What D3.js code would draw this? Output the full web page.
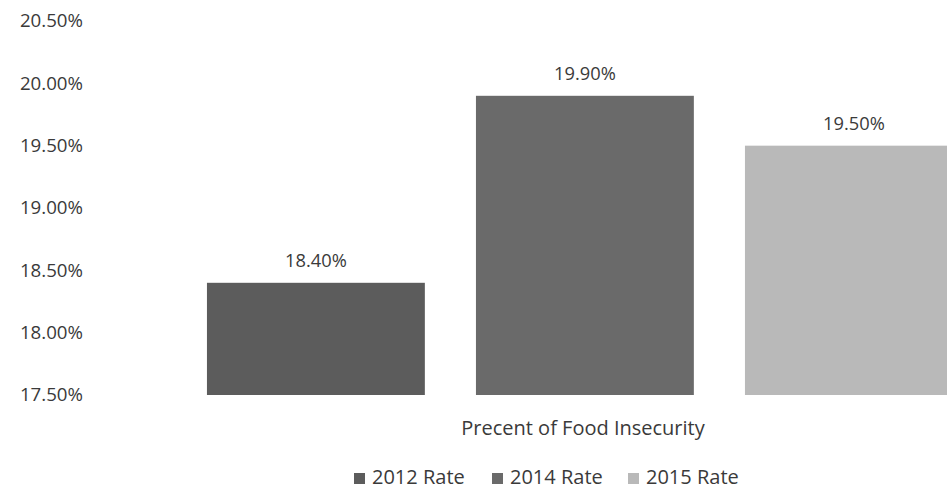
<!DOCTYPE html>
<html><head><meta charset="utf-8">
<script src="https://cdn.jsdelivr.net/npm/d3@7"></script>
<style>body{margin:0;background:#fff;} svg{display:block;} text{font-family:"Open Sans","Liberation Sans",sans-serif;}</style>
</head><body>
<svg id="c" width="947" height="489"></svg>
<script>
const categories = ["2012 Rate", "2014 Rate", "2015 Rate"];
const values = [18.40, 19.90, 19.50];
const colors = ["#5c5c5c", "#6a6a6a", "#b9b9b9"];
const yTicks = [17.5, 18.0, 18.5, 19.0, 19.5, 20.0, 20.5];
const axisTitle = "Precent of Food Insecurity";

const svg = d3.select("#c");
const y = d3.scaleLinear().domain([17.5, 20.5]).range([395, 21]);
const x = d3.scaleBand().domain(categories).range([181.4, 988.4]).paddingInner(0.19).paddingOuter(0.095);

const fmt = d => d.toFixed(2) + "%";
const txt = "#3a3a3a";

const yAxis = d3.axisLeft(y).tickValues(yTicks).tickFormat(fmt).tickSize(0).tickPadding(0);
const ga = svg.append("g").attr("transform", "translate(83,0)").call(yAxis);
ga.select(".domain").remove();
ga.selectAll("text").attr("font-size", 18.7).attr("fill", txt).attr("font-family", '"Open Sans",sans-serif');

svg.selectAll("rect.bar").data(values).join("rect").attr("class", "bar")
  .attr("x", (d, i) => x(categories[i]))
  .attr("width", x.bandwidth())
  .attr("y", d => y(d))
  .attr("height", d => y(17.5) - y(d))
  .attr("fill", (d, i) => colors[i]);

svg.selectAll("text.lbl").data(values).join("text").attr("class", "lbl")
  .attr("x", (d, i) => x(categories[i]) + x.bandwidth() / 2)
  .attr("y", d => y(d) - 16)
  .attr("text-anchor", "middle").attr("font-size", 18.3).attr("fill", txt)
  .text(fmt);

svg.append("text").attr("x", 583).attr("y", 435).attr("text-anchor", "middle")
  .attr("font-size", 20).attr("fill", txt).text(axisTitle);

const legX = [354, 492, 628];
const lg = svg.selectAll("g.leg").data(categories).join("g").attr("class", "leg")
  .attr("transform", (d, i) => `translate(${legX[i]},484)`);
lg.append("rect").attr("x", 0).attr("y", -11).attr("width", 11).attr("height", 11).attr("fill", (d, i) => colors[i]);
lg.append("text").attr("x", 18).attr("y", 0).attr("font-size", 20).attr("fill", txt).text(d => d);
</script>
</body></html>
